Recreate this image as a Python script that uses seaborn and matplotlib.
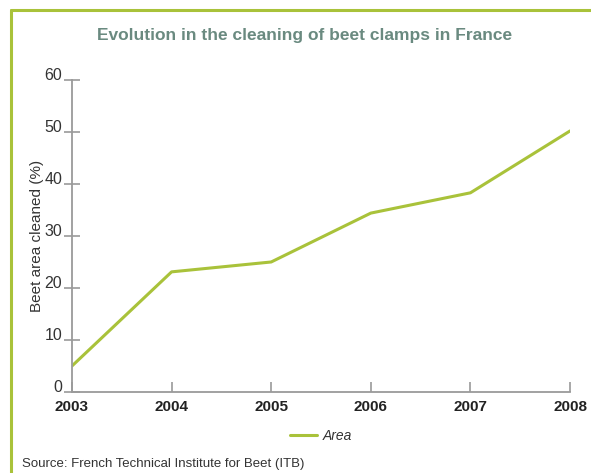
import matplotlib
matplotlib.use("Agg")
import matplotlib.pyplot as plt
from matplotlib.lines import Line2D
import seaborn as sns
import pandas as pd

years = [2003, 2004, 2005, 2006, 2007, 2008]
area = [5.0, 23.1, 25.0, 34.4, 38.3, 50.2]
yticks = [0, 10, 20, 30, 40, 50, 60]

sns.set_style("white")
plt.rcParams['font.family'] = ['Liberation Sans', 'DejaVu Sans']

green = '#a9c23a'
axis_grey = '#9a9a9a'

df = pd.DataFrame({'Year': years, 'Area': area})

fig = plt.figure(figsize=(5.91, 4.73), dpi=100)
ax = fig.add_axes([0.1218, 0.1713, 0.8427, 0.6596])
sns.lineplot(data=df, x='Year', y='Area', ax=ax, color=green, linewidth=2.2, label='Area')

ax.set_xlim(2003, 2008)
ax.set_ylim(0, 60)
ax.set_xticks(years)
ax.set_xticklabels([str(y) for y in years], fontweight='bold', fontsize=11, color='#222222')
ax.set_yticks(yticks)
ax.set_yticklabels([])
for v in yticks:
    ax.text(-0.02, v, str(v), transform=ax.get_yaxis_transform(), ha='right', va='baseline',
            fontsize=11.5, color='#333333')

for s in ['top', 'right']:
    ax.spines[s].set_visible(False)
for s in ['left', 'bottom']:
    ax.spines[s].set_color(axis_grey)
    ax.spines[s].set_linewidth(1.3)
ax.tick_params(axis='y', left=True, direction='inout', length=12, width=1.2, color=axis_grey, pad=2)
ax.tick_params(axis='x', bottom=True, direction='in', length=7, width=1.2, color=axis_grey, pad=6)
ax.set_xlabel('')
ax.set_ylabel('Beet area cleaned (%)', fontsize=11, color='#333333', labelpad=12)

ax.legend(loc='center', bbox_to_anchor=(0.5, -0.141), frameon=False, handlelength=2.0,
          handletextpad=0.4, prop={'style': 'italic', 'size': 10}, labelcolor='#333333')

fig.text(0.516, 0.925, 'Evolution in the cleaning of beet clamps in France', ha='center', va='center',
         fontsize=12.5, fontweight='bold', color='#6a8a80')
fig.text(0.037, 0.018, 'Source: French Technical Institute for Beet (ITB)', ha='left', va='center',
         fontsize=9.5, color='#333333')

fig.add_artist(Line2D([11 / 591, 11 / 591], [0, 1 - 10 / 473], color=green, linewidth=2.2))
fig.add_artist(Line2D([11 / 591, 1], [1 - 10 / 473, 1 - 10 / 473], color=green, linewidth=2.2))

fig.savefig('out.png', dpi=100)
